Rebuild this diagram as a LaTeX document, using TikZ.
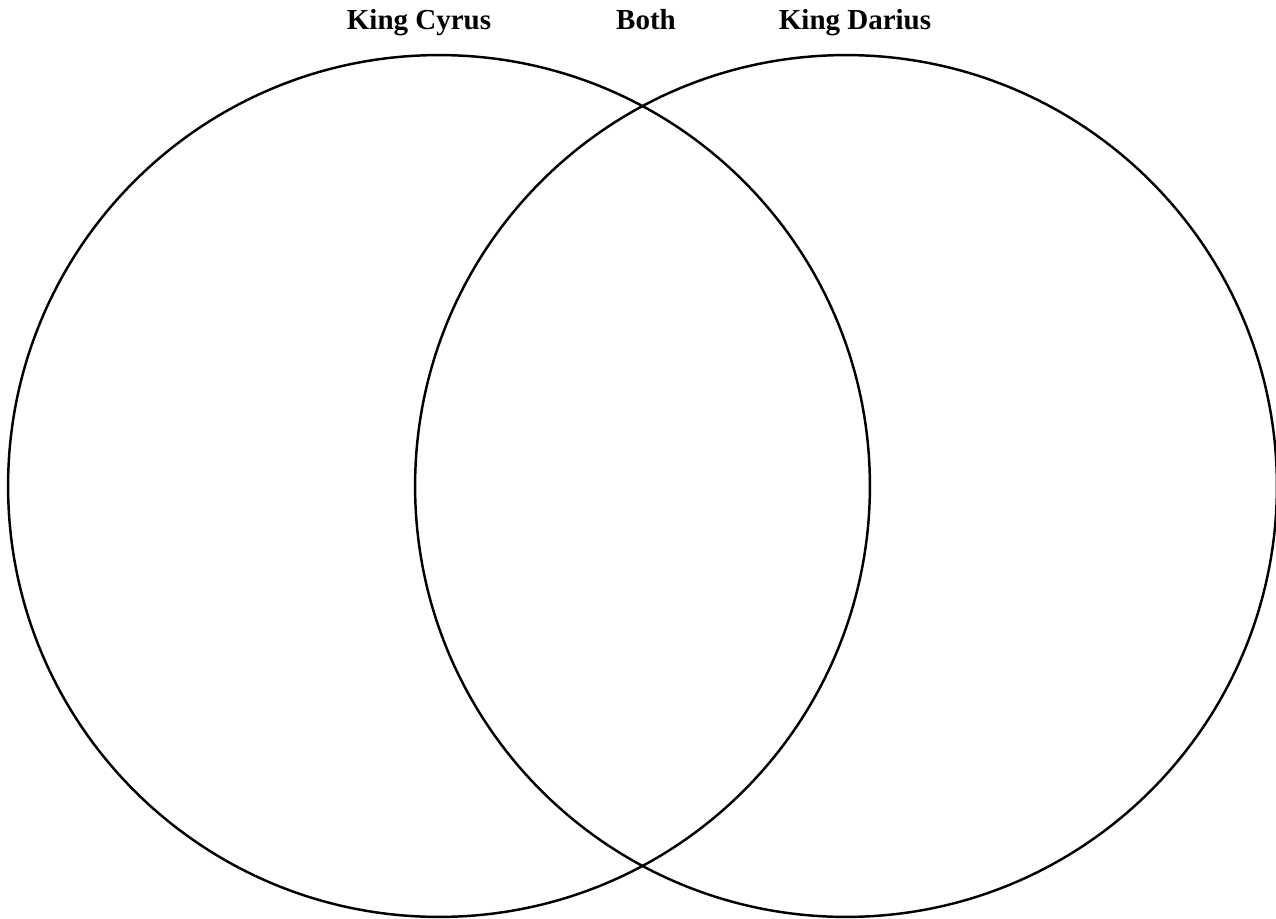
\documentclass[tikz,border=0pt]{standalone}
\usepackage{fontspec}
\setmainfont{Liberation Serif}
\begin{document}
\begin{tikzpicture}[
    x=0.02cm, y=-0.02cm,
    set/.style={draw, circle, line width=1.4pt, minimum size=17.24cm, inner sep=0pt},
    head/.style={font=\fontsize{16.5}{18}\selectfont\bfseries, anchor=base, inner sep=0pt},
  ]
    \useasboundingbox (0,0) rectangle (1276,919);

    % Two sets
    \node[set] (cyrus) at (439,486) {};
    \node[set] (darius) at (846,486) {};

    % Headings
    \node[head] (lcyrus) at (419,30) {King Cyrus};
    \node[head] (lboth) at (646,30) {Both};
    \node[head] (ldarius) at (855,30) {King Darius};
\end{tikzpicture}
\end{document}
